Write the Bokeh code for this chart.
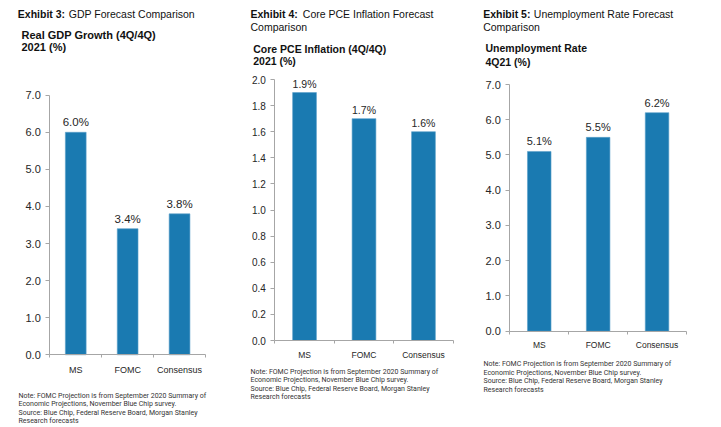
from bokeh.plotting import figure
from bokeh.layouts import row
from bokeh.models import Range1d, FixedTicker, Label, PrintfTickFormatter
from bokeh.core.properties import value
from bokeh.embed import file_html
from bokeh.resources import INLINE

# ---------------- data ----------------
categories = ["MS", "FOMC", "Consensus"]

gdp_values = [6.0, 3.4, 3.8]
pce_values = [1.9, 1.7, 1.6]
unemp_values = [5.1, 5.5, 6.2]

gdp_ticks = [0, 1, 2, 3, 4, 5, 6, 7]
pce_ticks = [0.0, 0.2, 0.4, 0.6, 0.8, 1.0, 1.2, 1.4, 1.6, 1.8, 2.0]
unemp_ticks = [0, 1, 2, 3, 4, 5, 6, 7]

exhibit_labels = ["Exhibit 3:", "Exhibit 4:", "Exhibit 5:"]
exhibit_titles = [
    ["GDP Forecast Comparison"],
    ["Core PCE Inflation Forecast", "Comparison"],
    ["Unemployment Rate Forecast", "Comparison"],
]
chart_subtitles = [
    ["Real GDP Growth (4Q/4Q)", "2021 (%)"],
    ["Core PCE Inflation (4Q/4Q)", "2021 (%)"],
    ["Unemployment Rate", "4Q21 (%)"],
]
note_lines = [
    "Note: FOMC Projection is from September 2020 Summary of",
    "Economic Projections, November Blue Chip survey.",
    "Source: Blue Chip, Federal Reserve Board, Morgan Stanley",
    "Research forecasts",
]

# ---------------- style / layout ----------------
BAR = "#1a7ab1"
AXIS = "#a6a6a6"
TXT = "#262626"
FONT = "Liberation Sans"
NOTE_FONT = "Roboto"
H = 427


def make_panel(W, values, yticks, ymax, box, sizes, lay):
    # box: chart area in canvas pixels (left, right, zero_y, top_y)
    left, right, zero_px, top_px = box
    tick_fs, lab_fs, cat_fs, sub_fs = sizes
    n = len(categories)
    xs_px = (right - left) / n
    ys_px = (zero_px - top_px) / ymax
    x_range = Range1d(-left / xs_px, n + (W - right) / xs_px)
    y_range = Range1d(-(H - zero_px) / ys_px, ymax + top_px / ys_px)

    p = figure(width=W, height=H, output_backend="svg", toolbar_location=None,
               x_range=x_range, y_range=y_range, min_border=0,
               background_fill_color="white", border_fill_color="white")
    p.outline_line_color = None
    p.xgrid.grid_line_color = None
    p.ygrid.grid_line_color = None

    xs = [i + 0.5 for i in range(n)]
    p.vbar(x=xs, top=values, bottom=0, width=0.4, fill_color=BAR,
           line_color="#5b9fca", line_width=0.6)
    p.text(x=xs, y=values, text=[f"{v:.1f}%" for v in values],
           text_align="center", text_baseline="middle", y_offset=-lay["lab_off"],
           text_font=value(FONT), text_font_size=lab_fs, text_color=TXT)

    xa = p.xaxis[0]
    xa.fixed_location = 0
    xa.bounds = (0, n)
    xa.ticker = FixedTicker(ticks=xs, minor_ticks=list(range(n + 1)))
    xa.major_label_overrides = {x: c for x, c in zip(xs, categories)}
    xa.major_tick_out = 0
    xa.major_tick_in = 0
    xa.minor_tick_out = 3
    xa.minor_tick_in = 0
    xa.minor_tick_line_color = AXIS
    xa.axis_line_color = AXIS
    xa.major_label_text_font = FONT
    xa.major_label_text_font_size = cat_fs
    xa.major_label_text_color = TXT
    xa.major_label_standoff = lay["cat_standoff"]

    ya = p.yaxis[0]
    ya.fixed_location = 0
    ya.bounds = (0, ymax)
    ya.ticker = FixedTicker(ticks=yticks)
    ya.formatter = PrintfTickFormatter(format="%.1f")
    ya.major_tick_out = 4
    ya.major_tick_in = 0
    ya.minor_tick_line_color = None
    ya.major_tick_line_color = AXIS
    ya.axis_line_color = AXIS
    ya.major_label_text_font = FONT
    ya.major_label_text_font_size = tick_fs
    ya.major_label_text_color = TXT
    ya.major_label_standoff = 5

    def lab(X, Y, text, size, font=FONT, bold=False, color=TXT):
        p.add_layout(Label(x=X, y=H - Y, x_units="screen", y_units="screen",
                           text=text, text_font=font, text_font_size=size,
                           text_font_style="bold" if bold else "normal",
                           text_color=color, text_align="left",
                           text_baseline="middle"))

    i = lay["idx"]
    lab(lay["ex_x"], lay["title_y"][0], exhibit_labels[i], "10.5px", bold=True,
        color="#111111")
    for k, line in enumerate(exhibit_titles[i]):
        X = lay["tt_x"] if k == 0 else lay["ex_x"]
        lab(X, lay["title_y"][k], line, "10.5px", color="#111111")
    for k, line in enumerate(chart_subtitles[i]):
        lab(lay["sub_x"], lay["sub_y"][k], line, sub_fs, bold=True, color="#111111")
    for k, line in enumerate(note_lines):
        lab(lay["note_x"], lay["note_y"][k], line, "7px", font=NOTE_FONT,
            color="#333333")
    return p


p1 = make_panel(240, gdp_values, gdp_ticks, 7, (49.3, 205, 354.3, 94.7),
                ("11px", "11.5px", "9px", "11px"),
                dict(idx=0, lab_off=10, cat_standoff=7,
                     ex_x=17.3, tt_x=68.3, title_y=[13.3],
                     sub_x=21, sub_y=[34.3, 46.7],
                     note_x=18, note_y=[395, 403.5, 412, 420.5]))

p2 = make_panel(232, pce_values, pce_ticks, 2.0, (34.3, 212.7, 340, 79),
                ("10px", "10.5px", "8.5px", "10.5px"),
                dict(idx=1, lab_off=9, cat_standoff=6,
                     ex_x=10, tt_x=62.3, title_y=[13.3, 26.7],
                     sub_x=12.7, sub_y=[48.3, 60],
                     note_x=10, note_y=[371, 379.5, 388, 396.5]))

p3 = make_panel(249, unemp_values, unemp_ticks, 7, (37.3, 214, 330.7, 84),
                ("11px", "11px", "8.5px", "10.5px"),
                dict(idx=2, lab_off=10, cat_standoff=6,
                     ex_x=10.7, tt_x=61.3, title_y=[13.3, 26],
                     sub_x=13, sub_y=[47.7, 61.5],
                     note_x=11, note_y=[363.5, 372, 380.5, 389]))

layout = row(p1, p2, p3)
open("out.html", "w").write(file_html(layout, INLINE))
